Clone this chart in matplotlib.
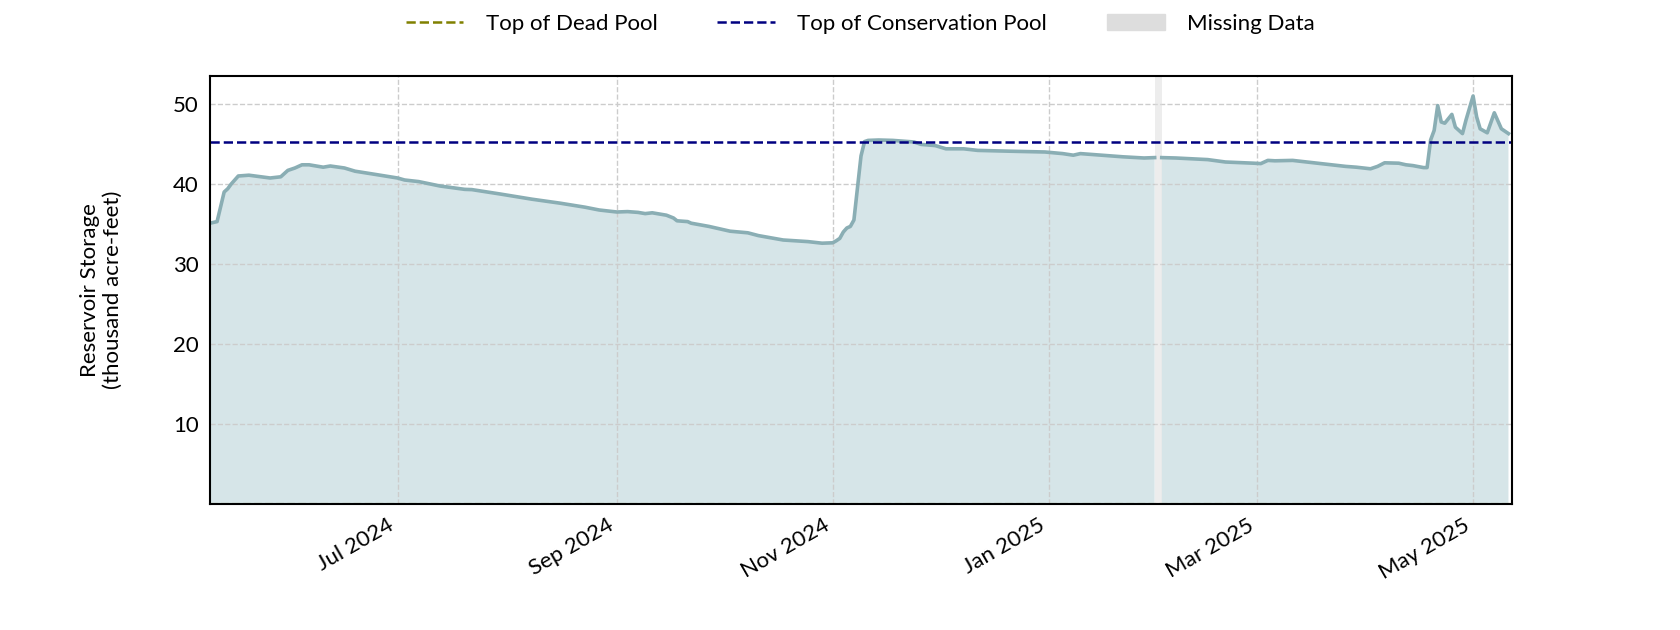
import pandas as pd
import numpy as np
import matplotlib
matplotlib.use("Agg")
import matplotlib.pyplot as plt
import matplotlib.dates as mdates
from matplotlib.lines import Line2D
from matplotlib.patches import Patch

plt.rcParams['font.family'] = ['Lato', 'DejaVu Sans']
plt.rcParams['font.size'] = 16

#storage readings (thousand acre-feet)
dates = ['2024-05-09', '2024-05-11', '2024-05-13', '2024-05-14', '2024-05-15', '2024-05-17',
         '2024-05-20', '2024-05-26', '2024-05-29', '2024-05-31', '2024-06-02', '2024-06-04',
         '2024-06-06', '2024-06-10', '2024-06-12', '2024-06-16', '2024-06-19', '2024-06-24',
         '2024-07-01', '2024-07-03', '2024-07-07', '2024-07-13', '2024-07-20', '2024-07-22',
         '2024-07-30', '2024-08-08', '2024-08-16', '2024-08-23', '2024-08-27', '2024-09-01',
         '2024-09-04', '2024-09-07', '2024-09-09', '2024-09-11', '2024-09-13', '2024-09-15',
         '2024-09-17', '2024-09-18', '2024-09-21', '2024-09-22', '2024-09-27', '2024-10-03',
         '2024-10-08', '2024-10-11', '2024-10-18', '2024-10-25', '2024-10-29', '2024-11-01',
         '2024-11-02', '2024-11-03', '2024-11-04', '2024-11-05', '2024-11-06', '2024-11-07',
         '2024-11-08', '2024-11-09', '2024-11-10', '2024-11-11', '2024-11-14', '2024-11-18',
         '2024-11-24', '2024-11-26', '2024-11-30', '2024-12-03', '2024-12-08', '2024-12-12',
         '2024-12-21', '2024-12-31', '2025-01-05', '2025-01-08', '2025-01-10', '2025-01-16',
         '2025-01-22', '2025-01-28', '2025-01-31', '2025-02-01', '2025-02-02', '2025-02-06',
         '2025-02-15', '2025-02-20', '2025-02-28', '2025-03-02', '2025-03-04', '2025-03-06',
         '2025-03-11', '2025-03-18', '2025-03-26', '2025-03-29', '2025-04-02', '2025-04-04',
         '2025-04-06', '2025-04-10', '2025-04-12', '2025-04-14', '2025-04-17', '2025-04-18',
         '2025-04-19', '2025-04-20', '2025-04-21', '2025-04-22', '2025-04-23', '2025-04-25',
         '2025-04-26', '2025-04-28', '2025-04-29', '2025-05-01', '2025-05-02', '2025-05-03',
         '2025-05-05', '2025-05-07', '2025-05-09', '2025-05-11']
storage = [35.1, 35.3, 39.0, 39.4, 40.0, 41.0,
           41.1, 40.75, 40.9, 41.7, 42.0, 42.4,
           42.4, 42.1, 42.25, 42.0, 41.6, 41.25,
           40.75, 40.5, 40.3, 39.75, 39.33, 39.3,
           38.75, 38.1, 37.6, 37.1, 36.75, 36.5,
           36.55, 36.45, 36.3, 36.4, 36.25, 36.1,
           35.75, 35.4, 35.3, 35.1, 34.7, 34.1,
           33.9, 33.55, 33.0, 32.8, 32.6, 32.65,
           32.9, 33.2, 34.0, 34.5, 34.7, 35.5,
           39.5, 43.5, 45.3, 45.45, 45.5, 45.45,
           45.25, 44.95, 44.8, 44.4, 44.4, 44.2,
           44.1, 44.0, 43.8, 43.6, 43.8, 43.6,
           43.4, 43.25, 43.3, np.nan, 43.3, 43.25,
           43.05, 42.75, 42.6, 42.55, 42.95, 42.9,
           42.95, 42.6, 42.2, 42.1, 41.9, 42.2,
           42.65, 42.6, 42.4, 42.3, 42.05, 42.05,
           45.5, 46.7, 49.8, 47.75, 47.6, 48.7,
           47.1, 46.3, 48.0, 51.0, 48.4, 46.9,
           46.4, 48.9, 46.9, 46.3]

dead_pool = 0.0
conservation_pool = 45.2
missing_start = '2025-01-31'
missing_end = '2025-02-02'
view_end = '2025-05-12'

dates = pd.to_datetime(dates)
storage = np.array(storage)

fig, ax = plt.subplots(figsize=(16.8, 6.3), dpi=100)

#storage line with shaded area
ax.fill_between(dates, 0, storage, color='#d6e5e8', lw=0, zorder=1)
ax.plot(dates, storage, color='#8aaeb4', lw=2.6, zorder=3)

#missing data band
ax.axvspan(pd.Timestamp(missing_start), pd.Timestamp(missing_end), color='#dddddd', alpha=0.5, lw=0, zorder=2)

#pool levels
ax.axhline(dead_pool, color='#808000', ls='--', lw=1.5, zorder=2)
ax.axhline(conservation_pool, color='#000080', ls='--', lw=1.8, zorder=4)

ax.set_xlim(dates[0], pd.Timestamp(view_end))
ax.set_ylim(0, np.nanmax(storage) * 1.05)
ax.set_yticks([10, 20, 30, 40, 50])
ax.grid(True, ls='--', color='#cccccc', lw=1)
ax.tick_params(length=0, pad=8)
for s in ax.spines.values():
    s.set_linewidth(1.5)
    s.set_zorder(5)

ax.set_ylabel('Reservoir Storage\n(thousand acre-feet)', labelpad=36)
fig.autofmt_xdate()
ax.xaxis.set_major_locator(mdates.MonthLocator(bymonth=[1, 3, 5, 7, 9, 11]))
ax.xaxis.set_major_formatter(mdates.DateFormatter('%b %Y'))

handles = [Line2D([], [], color='#808000', ls='--', lw=1.8),
           Line2D([], [], color='#000080', ls='--', lw=1.8),
           Patch(color='#dddddd')]
labels = ['Top of Dead Pool', 'Top of Conservation Pool', 'Missing Data']
fig.legend(handles, labels, loc='upper center', bbox_to_anchor=(0.512, 1.01), ncol=3,
           frameon=False, columnspacing=2.7, handlelength=2.6, handletextpad=1.0)

plt.subplots_adjust(left=0.125, right=0.9, top=0.88, bottom=0.2)
plt.savefig('out.png')
